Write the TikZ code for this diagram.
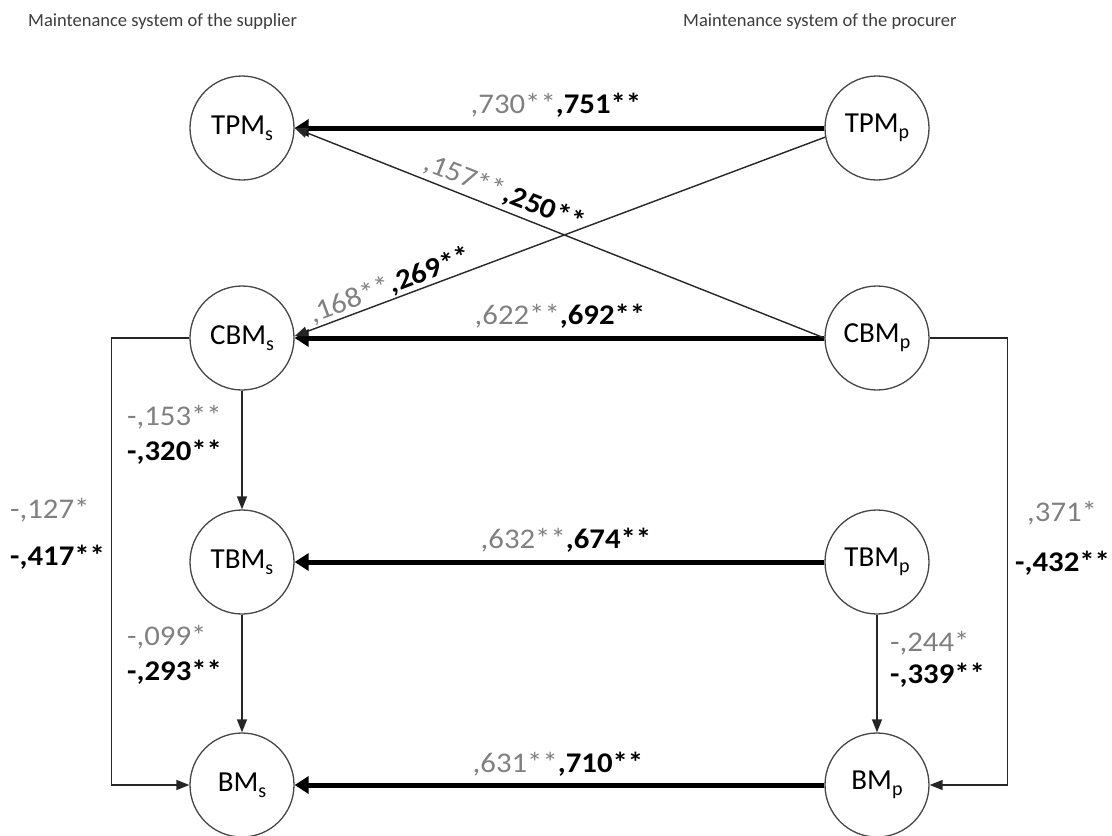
\documentclass[tikz,border=0pt]{standalone}
\usepackage{fontspec}
\setmainfont{Carlito}
\usetikzlibrary{arrows.meta}
\definecolor{labgray}{RGB}{128,128,128}
\definecolor{headgray}{RGB}{60,60,60}
\definecolor{ringgray}{RGB}{70,70,70}
\tikzset{
  var/.style={circle, draw=ringgray, line width=1.3pt, minimum size=104pt, inner sep=0pt,
    font=\fontsize{29}{32}\selectfont},
  strongarr/.style={line width=5pt, -{Triangle[length=14pt,width=17pt]}},
  weakarr/.style={line width=1.4pt, draw=black!85, -{Triangle[length=13pt,width=10pt]}},
  lab/.style={font=\fontsize{28.5}{30}\selectfont, inner sep=0pt},
  head/.style={font=\fontsize{18.5}{21}\selectfont, text=headgray, inner sep=0pt, anchor=west}
}
\newcommand{\gl}[1]{{\color{labgray}#1}}
\newcommand{\bl}[1]{{\bfseries #1}}
\newcommand{\wide}[1]{\scalebox{1.08}[1]{#1}}
\newcommand{\sbs}[1]{\raisebox{-6pt}{\fontsize{20}{20}\selectfont #1}}
\begin{document}
\begin{tikzpicture}[x=1pt,y=-1pt]
\useasboundingbox (0,0) rectangle (1112,836);
% headers
\node[head] (hs) at (28,22) {Maintenance system of the supplier};
\node[head] (hp) at (683,22) {Maintenance system of the procurer};
% nodes
\node[var] (TPMs) at (242,128) {TPM\sbs{s}};
\node[var] (TPMp) at (877,128) {TPM\sbs{p}};
\node[var] (CBMs) at (242,338) {CBM\sbs{s}};
\node[var] (CBMp) at (877,338) {CBM\sbs{p}};
\node[var] (TBMs) at (242,562) {TBM\sbs{s}};
\node[var] (TBMp) at (877,562) {TBM\sbs{p}};
\node[var] (BMs) at (242,785) {BM\sbs{s}};
\node[var] (BMp) at (877,785) {BM\sbs{p}};
% strong horizontal arrows
\draw[strongarr] (TPMp) -- (TPMs);
\draw[strongarr] (CBMp) -- (CBMs);
\draw[strongarr] (TBMp) -- (TBMs);
\draw[strongarr] (BMp) -- (BMs);
% crossing lines
\draw[weakarr] (CBMp.west) -- (TPMs.east);
\draw[weakarr] (TPMp.190) -- (CBMs.2);
% vertical arrows
\draw[weakarr] (CBMs) -- (TBMs);
\draw[weakarr] (TBMs) -- (BMs);
\draw[weakarr] (TBMp) -- (BMp);
% outer loops
\draw[weakarr] (CBMs.west) -- ++(-78,0) |- (BMs.west);
\draw[weakarr] (CBMp.east) -- ++(78,0) |- (BMp.east);
% labels on horizontal arrows
\node[lab, anchor=base] (l1) at (556,113) {\wide{\gl{,730**}\bl{,751**}}};
\node[lab, anchor=base] (l2) at (560,324) {\wide{\gl{,622**}\bl{,692**}}};
\node[lab, anchor=base] (l3) at (566,548) {\wide{\gl{,632**}\bl{,674**}}};
\node[lab, anchor=base] (l4) at (558,772) {\wide{\gl{,631**}\bl{,710**}}};
% labels on crossing lines
\node[lab, rotate=-21.55, anchor=south, inner sep=5pt] (l5) at (498,209) {\wide{\gl{,157**}\bl{,250**}}};
\node[lab, rotate=20.6, anchor=south, inner sep=2pt] (l6) at (395,299) {\wide{\gl{,168**}\bl{,269**}}};
% labels on vertical arrows and loops
\node[lab, anchor=west] (l7) at (127,417) {\wide{\gl{-,153**}}};
\node[lab, anchor=west] (l8) at (127,452) {\wide{\bl{-,320**}}};
\node[lab, anchor=west] (l9) at (127,637) {\wide{\gl{-,099*}}};
\node[lab, anchor=west] (l10) at (127,672) {\wide{\bl{-,293**}}};
\node[lab, anchor=west] (l11) at (890,643) {\wide{\gl{-,244*}}};
\node[lab, anchor=west] (l12) at (890,675) {\wide{\bl{-,339**}}};
\node[lab, anchor=west] (l13) at (10,510) {\wide{\gl{-,127*}}};
\node[lab, anchor=west] (l14) at (10,557) {\wide{\bl{-,417**}}};
\node[lab, anchor=west] (l15) at (1027,513) {\wide{\gl{,371*}}};
\node[lab, anchor=west] (l16) at (1015,563) {\wide{\bl{-,432**}}};
\end{tikzpicture}
\end{document}
